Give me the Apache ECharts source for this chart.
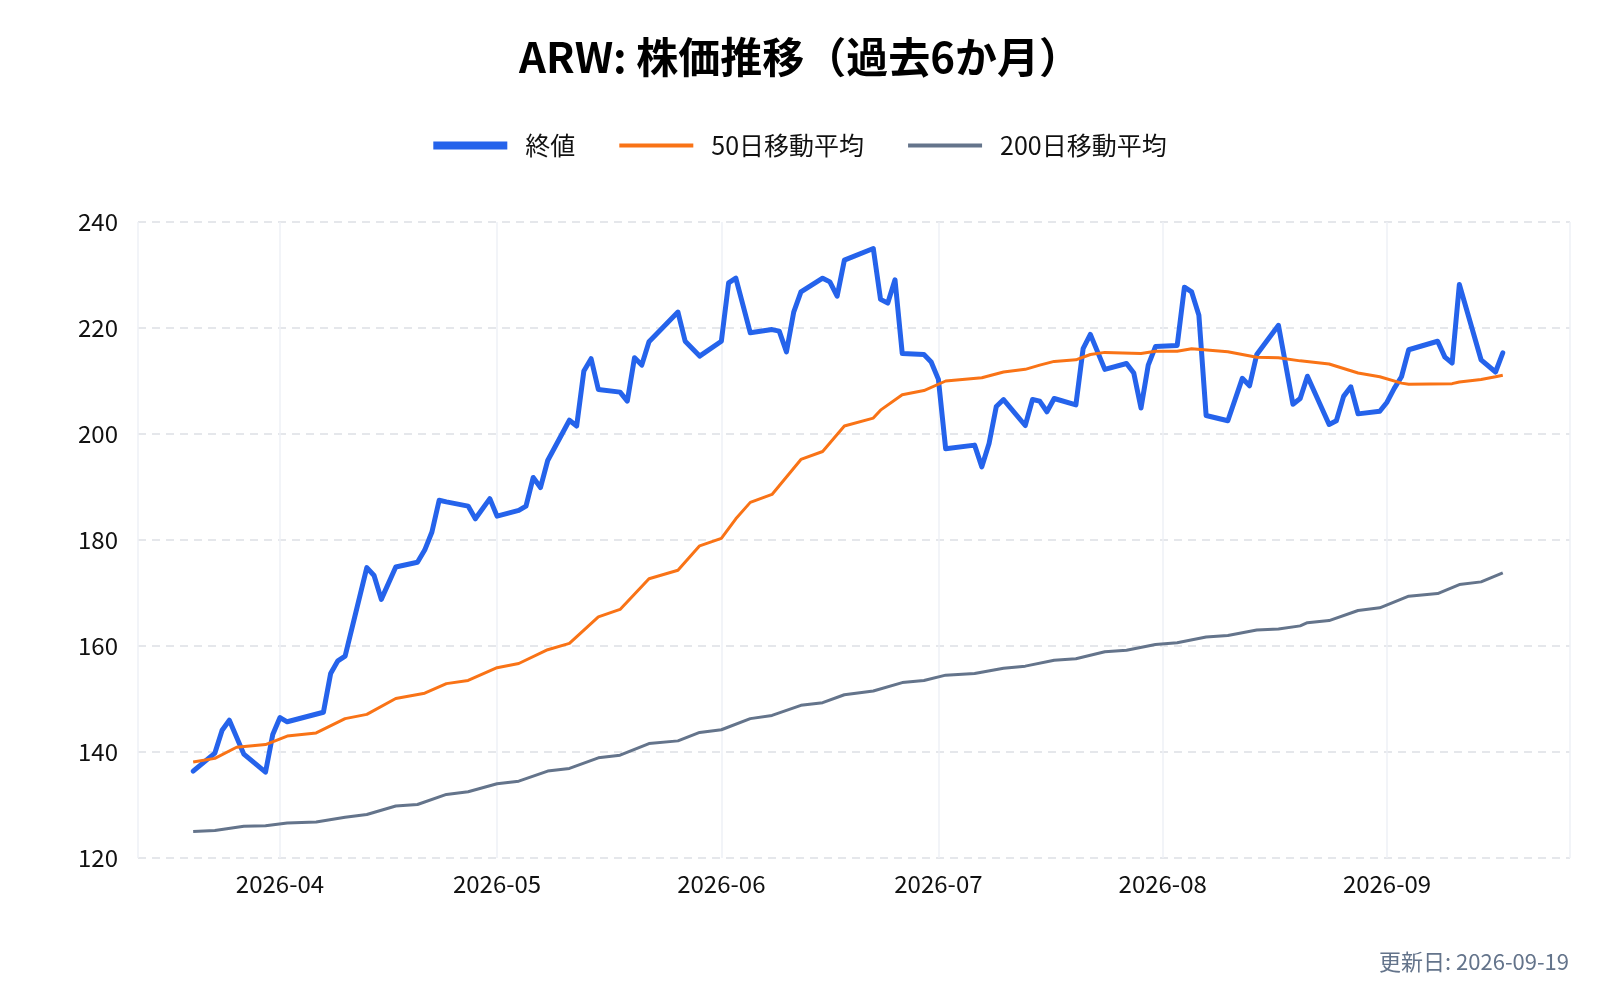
<!DOCTYPE html>
<html>
<head>
<meta charset="utf-8">
<title>ARW 株価推移</title>
<script src="https://cdn.jsdelivr.net/npm/echarts@6/dist/echarts.min.js"></script>
<style>
  html, body { margin: 0; padding: 0; background: #fff; }
  #chart { width: 1600px; height: 1000px; }
</style>
</head>
<body>
<div id="chart"></div>
<script>
// 終値（営業日）
const closeDates = [
  '2026-03-20','2026-03-23','2026-03-24','2026-03-25','2026-03-27','2026-03-30','2026-03-31',
  '2026-04-01','2026-04-02','2026-04-07','2026-04-08','2026-04-09','2026-04-10','2026-04-13',
  '2026-04-14','2026-04-15','2026-04-17','2026-04-20','2026-04-21','2026-04-22','2026-04-23',
  '2026-04-24','2026-04-27','2026-04-28','2026-04-30','2026-05-01','2026-05-04','2026-05-05',
  '2026-05-06','2026-05-07','2026-05-08','2026-05-11','2026-05-12','2026-05-13','2026-05-14',
  '2026-05-15','2026-05-18','2026-05-19','2026-05-20','2026-05-21','2026-05-22','2026-05-26',
  '2026-05-27','2026-05-29','2026-06-01','2026-06-02','2026-06-03','2026-06-05','2026-06-08',
  '2026-06-09','2026-06-10','2026-06-11','2026-06-12','2026-06-15','2026-06-16','2026-06-17',
  '2026-06-18','2026-06-22','2026-06-23','2026-06-24','2026-06-25','2026-06-26','2026-06-29',
  '2026-06-30','2026-07-01','2026-07-02','2026-07-06','2026-07-07','2026-07-08','2026-07-09',
  '2026-07-10','2026-07-13','2026-07-14','2026-07-15','2026-07-16','2026-07-17','2026-07-20',
  '2026-07-21','2026-07-22','2026-07-24','2026-07-27','2026-07-28','2026-07-29','2026-07-30',
  '2026-07-31','2026-08-03','2026-08-04','2026-08-05','2026-08-06','2026-08-07','2026-08-10',
  '2026-08-12','2026-08-13','2026-08-14','2026-08-17','2026-08-19','2026-08-20','2026-08-21',
  '2026-08-24','2026-08-25','2026-08-26','2026-08-27','2026-08-28','2026-08-31','2026-09-01',
  '2026-09-02','2026-09-03','2026-09-04','2026-09-08','2026-09-09','2026-09-10','2026-09-11',
  '2026-09-14','2026-09-16','2026-09-17'
];
const closeValues = [
  136.4,139.8,144.1,146.0,139.6,136.2,143.3,
  146.5,145.7,147.5,154.8,157.2,158.1,174.8,
  173.3,168.8,174.9,175.8,178.1,181.5,187.5,
  187.2,186.4,184.0,187.8,184.5,185.6,186.4,
  191.8,189.9,195.0,202.6,201.5,211.9,214.2,
  208.4,207.9,206.2,214.4,213.0,217.4,223.0,
  217.5,214.7,217.5,228.5,229.4,219.1,219.7,
  219.4,215.5,223.0,226.8,229.4,228.7,226.0,
  232.8,235.0,225.4,224.7,229.1,215.2,215.0,
  213.6,210.3,197.2,197.9,193.8,198.2,205.2,
  206.5,201.6,206.5,206.2,204.2,206.7,205.5,
  216.1,218.8,212.2,213.3,211.5,204.9,213.0,
  216.5,216.7,227.7,226.8,222.4,203.5,202.5,
  210.5,209.1,215.0,220.5,205.6,206.7,210.9,
  201.8,202.5,207.1,208.9,203.8,204.3,206.0,
  208.6,210.8,215.9,217.5,214.5,213.4,228.2,
  214.0,211.7,215.3
];

// 50日移動平均
const ma50Dates = [
  '2026-03-20','2026-03-23','2026-03-26','2026-03-30','2026-04-02','2026-04-06','2026-04-10',
  '2026-04-13','2026-04-17','2026-04-21','2026-04-24','2026-04-27','2026-05-01','2026-05-04',
  '2026-05-08','2026-05-11','2026-05-15','2026-05-18','2026-05-22','2026-05-26','2026-05-29',
  '2026-06-01','2026-06-03','2026-06-05','2026-06-08','2026-06-12','2026-06-15','2026-06-18',
  '2026-06-22','2026-06-23','2026-06-26','2026-06-29','2026-07-02','2026-07-07','2026-07-10',
  '2026-07-13','2026-07-15','2026-07-17','2026-07-20','2026-07-22','2026-07-24','2026-07-29',
  '2026-07-31','2026-08-03','2026-08-05','2026-08-10','2026-08-14','2026-08-17','2026-08-20',
  '2026-08-24','2026-08-28','2026-08-31','2026-09-03','2026-09-04','2026-09-10','2026-09-11',
  '2026-09-14','2026-09-16','2026-09-17'
];
const ma50Values = [
  138.1,138.8,140.9,141.4,143.0,143.6,146.3,
  147.1,150.1,151.1,152.9,153.5,155.9,156.7,
  159.3,160.5,165.5,166.9,172.7,174.3,178.9,
  180.3,184.0,187.1,188.6,195.2,196.7,201.5,
  203.0,204.5,207.4,208.2,210.0,210.6,211.7,
  212.2,213.0,213.7,214.0,215.0,215.4,215.2,
  215.6,215.6,216.1,215.5,214.5,214.4,213.8,
  213.2,211.5,210.8,209.6,209.4,209.5,209.8,
  210.3,210.8,211.1
];

// 200日移動平均
const ma200Dates = [
  '2026-03-20','2026-03-23','2026-03-27','2026-03-30','2026-04-02','2026-04-06','2026-04-10',
  '2026-04-13','2026-04-17','2026-04-20','2026-04-24','2026-04-27','2026-05-01','2026-05-04',
  '2026-05-08','2026-05-11','2026-05-15','2026-05-18','2026-05-22','2026-05-26','2026-05-29',
  '2026-06-01','2026-06-05','2026-06-08','2026-06-12','2026-06-15','2026-06-18','2026-06-22',
  '2026-06-26','2026-06-29','2026-07-02','2026-07-06','2026-07-10','2026-07-13','2026-07-17',
  '2026-07-20','2026-07-24','2026-07-27','2026-07-31','2026-08-03','2026-08-07','2026-08-10',
  '2026-08-14','2026-08-17','2026-08-20','2026-08-21','2026-08-24','2026-08-28','2026-08-31',
  '2026-09-04','2026-09-08','2026-09-11','2026-09-14','2026-09-17'
];
const ma200Values = [
  125.0,125.2,126.0,126.1,126.6,126.8,127.7,
  128.2,129.8,130.1,132.0,132.5,134.0,134.5,
  136.4,136.9,138.9,139.4,141.6,142.1,143.7,
  144.2,146.3,146.9,148.8,149.3,150.8,151.5,
  153.1,153.5,154.5,154.8,155.8,156.2,157.3,
  157.6,158.9,159.2,160.3,160.6,161.7,162.0,
  163.0,163.2,163.8,164.4,164.8,166.7,167.2,
  169.4,169.9,171.6,172.1,173.8
];

const seriesNames = ['終値', '50日移動平均', '200日移動平均'];
const yTicks = [120, 140, 160, 180, 200, 220, 240];
const titleText = 'ARW: 株価推移（過去6か月）';
const updatedText = '更新日: 2026-09-19';

const FONT = '"Noto Sans CJK JP", "Noto Sans", sans-serif';
const DAY = 24 * 3600 * 1000;

function pairs(dates, values) {
  return dates.map(function (d, i) { return [d, values[i]]; });
}

const chart = echarts.init(document.getElementById('chart'));
chart.setOption({
  animation: false,
  backgroundColor: '#ffffff',
  textStyle: { fontFamily: FONT },
  title: [{
    text: titleText,
    left: 'center',
    top: 31,
    textStyle: { fontSize: 42, fontWeight: 'bold', color: '#000000', fontFamily: FONT }
  }, {
    text: updatedText,
    right: 26,
    bottom: 22,
    textStyle: { fontSize: 22, fontWeight: 'normal', color: '#64748b', fontFamily: FONT }
  }],
  legend: {
    top: 128,
    left: 'center',
    itemWidth: 74,
    itemHeight: 8,
    itemGap: 44,
    textStyle: { fontSize: 25, color: '#111111', fontFamily: FONT, padding: [0, 0, 0, 13] },
    data: [
      { name: seriesNames[0], icon: 'path://M0,0H74V8H0Z' },
      { name: seriesNames[1], icon: 'path://M0,0L74,0M0,2H74V6H0ZM0,8L74,8' },
      { name: seriesNames[2], icon: 'path://M0,0L74,0M0,2H74V6H0ZM0,8L74,8' }
    ]
  },
  grid: { left: 138, right: 30, top: 222, bottom: 142 },
  xAxis: {
    type: 'time',
    min: '2026-03-12 09:00',
    max: '2026-09-26 07:00',
    splitNumber: 7,
    minInterval: 28 * DAY,
    maxInterval: 31 * DAY,
    axisLine: { show: false },
    axisTick: { show: false },
    axisLabel: {
      fontSize: 24,
      color: '#111111',
      margin: 14,
      showMinLabel: false,
      showMaxLabel: false,
      formatter: '{yyyy}-{MM}'
    },
    splitLine: { show: true, lineStyle: { color: '#eef1f6', width: 1.5, type: 'solid' } }
  },
  yAxis: {
    type: 'value',
    min: yTicks[0],
    max: yTicks[yTicks.length - 1],
    interval: 20,
    axisLine: { show: false },
    axisTick: { show: false },
    axisLabel: { fontSize: 24, color: '#111111', margin: 20 },
    splitLine: { lineStyle: { color: '#e5e7eb', width: 2, type: [8, 6] } }
  },
  series: [{
    name: seriesNames[0],
    type: 'line',
    data: pairs(closeDates, closeValues),
    showSymbol: false,
    symbol: 'none',
    color: '#2563eb',
    lineStyle: { width: 5, color: '#2563eb', join: 'round', cap: 'round' }
  }, {
    name: seriesNames[1],
    type: 'line',
    data: pairs(ma50Dates, ma50Values),
    showSymbol: false,
    symbol: 'none',
    color: '#f97316',
    lineStyle: { width: 3, color: '#f97316', join: 'round' }
  }, {
    name: seriesNames[2],
    type: 'line',
    data: pairs(ma200Dates, ma200Values),
    showSymbol: false,
    symbol: 'none',
    color: '#64748b',
    lineStyle: { width: 3, color: '#64748b', join: 'round' }
  }]
});
</script>
</body>
</html>
